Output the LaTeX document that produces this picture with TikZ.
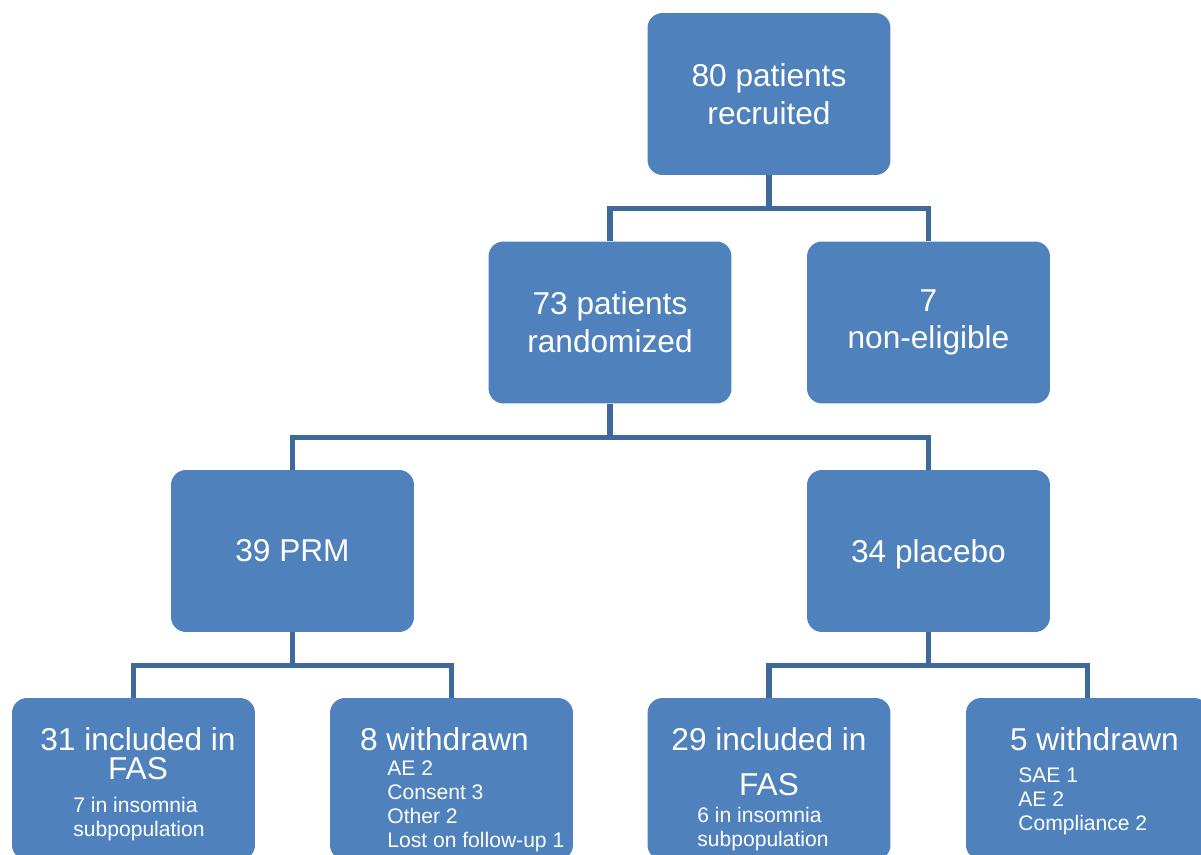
\documentclass[tikz,border=0pt]{standalone}
\usepackage{fontspec}
\setmainfont{Liberation Sans}
\usepackage{tikz}
\definecolor{flBox}{RGB}{79,129,189}
\definecolor{flLine}{RGB}{61,106,154}

\begin{document}
\begin{tikzpicture}[
  x=0.02cm, y=-0.02cm,
  box/.style={fill=flBox, rounded corners=0.3cm, minimum width=4.86cm, minimum height=3.24cm, inner sep=4pt, align=center, text=white, font={\fontsize{18}{21.5}\selectfont}},
  head/.style={inner sep=0pt, align=center, text=white, font={\fontsize{18}{21.5}\selectfont}, anchor=north},
  sub/.style={inner sep=0pt, align=left, text=white, font={\fontsize{12}{13.8}\selectfont}, anchor=north west},
  link/.style={draw=flLine, line width=3pt},
]
\useasboundingbox (0,0) rectangle (1201,855);
% recruitment
\node[box] (rec) at (769,94) {80 patients\\recruited};
\node[box] (rand) at (610,322.5) {73 patients\\randomized};
\node[box] (nonel) at (928.5,322.5) {7\\non-eligible};
% arms
\node[box] (prm) at (292.5,551) {39 PRM};
\node[box, text depth=0pt] (plc) at (928.5,551) {34 placebo};
% outcome per arm
\node[box] (fas1) at (133.5,779) {};
\node[box] (wd1) at (451.5,779) {};
\node[box] (fas2) at (769,779) {};
\node[box] (wd2) at (1087.5,779) {};
\node[head] (fas1head) at (138,727) {31 included in\\[-5pt]FAS};
\node[sub] (fas1sub) at (73,797) {7 in insomnia\\subpopulation};
\node[head] (wd1head) at (444.5,727) {8 withdrawn};
\node[sub] (wd1sub) at (387,760) {AE 2\\Consent 3\\Other 2\\Lost on follow-up 1};
\node[head] (fas2head) at (769,727) {29 included in\\[4pt]FAS};
\node[sub] (fas2sub) at (697,807) {6 in insomnia\\subpopulation};
\node[head] (wd2head) at (1094.5,727) {5 withdrawn};
\node[sub] (wd2sub) at (1018,767) {SAE 1\\AE 2\\Compliance 2};
% tree lines
\draw[link] (rec.south) -- ++(0,33.5) -| (rand.north);
\draw[link] (rec.south) -- ++(0,33.5) -| (nonel.north);
\draw[link] (rand.south) -- ++(0,33.5) -| (prm.north);
\draw[link] (rand.south) -- ++(0,33.5) -| (plc.north);
\draw[link] (prm.south) -- ++(0,33) -| (fas1.north);
\draw[link] (prm.south) -- ++(0,33) -| (wd1.north);
\draw[link] (plc.south) -- ++(0,33) -| (fas2.north);
\draw[link] (plc.south) -- ++(0,33) -| (wd2.north);
\end{tikzpicture}
\end{document}
